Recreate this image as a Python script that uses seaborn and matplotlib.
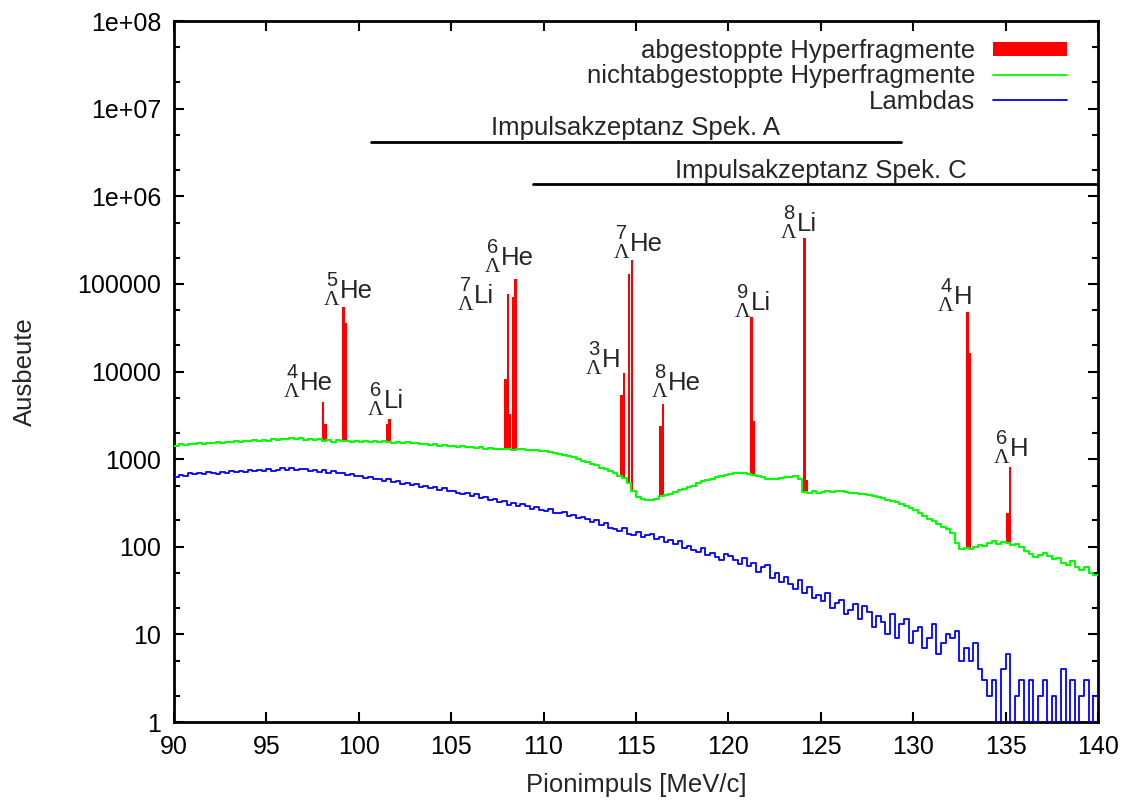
import numpy as np
import matplotlib
matplotlib.use("Agg")
import matplotlib.pyplot as plt
from matplotlib.lines import Line2D
from matplotlib.patches import Patch
from matplotlib.ticker import FixedLocator, NullFormatter
import seaborn as sns

# momentum binning of the two background spectra (MeV/c)
bin_lo, bin_hi, bin_w = 90.0, 140.0, 0.25

# nichtabgestoppte Hyperfragmente, 4 bins per MeV/c starting at 90
green_counts = [
    1430, 1470, 1440, 1500,  1480, 1520, 1490, 1540,  1510, 1560, 1530, 1580,
    1550, 1600, 1570, 1620,  1590, 1640, 1600, 1660,  1620, 1680, 1650, 1710,
    1690, 1740, 1700, 1720,  1660, 1700, 1640, 1680,  1600, 1650, 1580, 1640,
    1590, 1620, 1560, 1610,  1580, 1630, 1570, 1600,  1560, 1610, 1580, 1540,
    1560, 1520, 1570, 1510,  1530, 1480, 1500, 1460,  1470, 1430, 1460, 1410,
    1430, 1390, 1410, 1370,  1380, 1340, 1360, 1320,  1330, 1300, 1320, 1290,
    1310, 1280, 1300, 1290,  1280, 1260, 1270, 1240,  1230, 1200, 1180, 1150,
    1120, 1090, 1050, 1010,  960, 920, 880, 850,      800, 770, 730, 690,
    650, 610, 540, 430,      370, 350, 340, 345,      355, 375, 390, 400,
    420, 440, 460, 480,      500, 530, 560, 580,      600, 620, 650, 660,
    670, 690, 700, 690,      680, 660, 640, 620,      600, 590, 600, 615,
    620, 630, 640, 600,      420, 410, 430, 415,      425, 430, 420, 435,
    430, 420, 415, 410,      400, 395, 385, 380,      370, 360, 345, 335,
    320, 305, 290, 275,      260, 240, 225, 210,      195, 180, 170, 160,
    145, 110, 95, 98,        95, 100, 105, 102,       110, 115, 108, 112,
    110, 105, 108, 100,      90, 82, 76, 80,          84, 78, 72, 75,
    66, 62, 68, 58,          55, 58, 50, 47,
]

# Lambdas, same binning
blue_counts = [
    630, 660, 650, 690,  670, 700, 680, 710,  700, 680, 720, 700,  730, 710, 740, 720,
    750, 730, 760, 740,  770, 740, 760, 790,  760, 790, 750, 770,  780, 740, 760, 720,
    760, 700, 730, 690,  700, 660, 680, 640,  650, 610, 630, 590,  600, 560, 590, 550,
    560, 520, 540, 510,  520, 480, 500, 470,  480, 450, 470, 430,  435, 415, 400, 410,
    380, 395, 360, 370,  345, 355, 320, 335,  300, 315, 290, 305,  295, 270, 285, 260,
    255, 270, 245, 240,  250, 225, 232, 215,  218, 205, 190, 200,  178, 186, 165, 158,
    150, 162, 140, 135,  148, 128, 135, 138,  122, 130, 112, 118,  108, 115, 96, 102,
    92, 88, 98, 80,      84, 76, 70, 82,      78, 70, 64, 74,      60, 66, 52, 58,
    62, 44, 50, 40,      45, 38, 33, 42,      30, 35, 26, 28,      24, 30, 20, 23,
    25, 17, 19, 22,      15, 21, 18, 12,      16, 14, 10, 17,      9, 13, 15, 8,
    11, 12, 7, 9,        13, 6, 8, 10,        9, 11, 5, 7,         5, 8, 4, 3,
    2, 3, 1, 4,          6, 1, 2, 3,          1, 3, 1, 2,          3, 1, 2, 1,
    4, 1, 3, 1,          2, 3, 1, 2,
]

# abgestoppte Hyperfragmente: narrow peaks (bin centre, peak top)
red_centers = [98.06, 98.19, 99.18, 99.31, 101.53, 101.66,
               107.93, 108.07, 108.20, 108.34, 108.48,
               114.22, 114.35, 114.63, 114.77, 116.32, 116.46,
               121.26, 121.39, 124.13, 124.27, 132.94, 133.08, 135.11, 135.24]
red_tops = [4500, 2500, 55000, 36000, 2500, 2900,
            8300, 77000, 3300, 71000, 113000,
            5400, 9500, 130000, 186000, 2400, 4300,
            41500, 2700, 330000, 575, 47500, 16100, 244, 810]
red_width = 0.13

# isotope labels: mass number, element, label left edge x, element baseline y
iso_mass = ["4", "5", "6", "7", "6", "3", "7", "8", "9", "8", "4", "6"]
iso_elem = ["He", "He", "Li", "Li", "He", "H", "He", "He", "Li", "Li", "H", "H"]
iso_x = [96.06, 98.23, 100.61, 105.48, 106.94, 112.40, 113.92, 115.97, 120.47, 122.95, 131.45, 134.48]
iso_y = [6140, 68900, 3820, 60400, 164000, 11200, 237000, 6140, 50200, 401000, 58800, 1080]

# spectrometer momentum acceptances
acc_labels = ["Impulsakzeptanz Spek. A", "Impulsakzeptanz Spek. C"]
acc_lo = [100.66, 109.43]
acc_hi = [129.34, 140.6]
acc_text_x = [115.0, 125.0]
acc_level = [4.2e6, 1.38e6]

legend_labels = ["abgestoppte Hyperfragmente", "nichtabgestoppte Hyperfragmente", "Lambdas"]

sns.set_theme(style="ticks")
plt.rcParams["font.family"] = ["Liberation Sans", "DejaVu Sans"]

FS = 18.5

centers = np.arange(bin_lo, bin_hi, bin_w) + bin_w / 2

fig, ax = plt.subplots(figsize=(11.31, 8.05), dpi=100)
fig.subplots_adjust(left=0.1538, right=0.9708, top=0.9739, bottom=0.1031)

# red peaks sit on top of the unstopped spectrum
green_arr = np.array(green_counts, dtype=float)
idx = np.clip(((np.array(red_centers) - bin_lo) // bin_w).astype(int), 0, len(green_arr) - 1)
red_bottom = green_arr[idx]
ax.bar(red_centers, np.array(red_tops) - red_bottom, bottom=red_bottom, width=red_width,
       color="#ff0000", linewidth=0, zorder=2)

sns.histplot(x=centers, weights=np.array(green_counts, dtype=float),
             binwidth=bin_w, binrange=(bin_lo, bin_hi), element="step", fill=False,
             color="#00ff00", linewidth=1.5, ax=ax, zorder=3)
sns.histplot(x=centers, weights=np.array(blue_counts, dtype=float),
             binwidth=bin_w, binrange=(bin_lo, bin_hi), element="step", fill=False,
             color="#0000ff", linewidth=1.3, ax=ax, zorder=3)

ax.set_yscale("log")
ax.set_xlim(90, 140)
ax.set_ylim(1, 1e8)

for lab, lo, hi, tx, lev in zip(acc_labels, acc_lo, acc_hi, acc_text_x, acc_level):
    ax.plot([lo, hi], [lev, lev], color="black", linewidth=2, zorder=4)
    ax.annotate(lab, xy=(tx, lev), xytext=(0, 1), textcoords="offset points",
                ha="center", va="bottom", fontsize=FS)

# gnuplot-like nuclide labels: mass number on top, Lambda below, then element
for m, el, x, y in zip(iso_mass, iso_elem, iso_x, iso_y):
    ax.annotate(m, xy=(x, y), xytext=(4.2, 8.5), textcoords="offset points",
                ha="center", va="baseline", fontsize=14.5)
    ax.annotate("\u039b", xy=(x, y), xytext=(4.2, -5), textcoords="offset points",
                ha="center", va="baseline", fontsize=15.5, family="Liberation Serif")
    ax.annotate(el, xy=(x, y), xytext=(10, 0), textcoords="offset points",
                ha="left", va="baseline", fontsize=FS)

# ticks like gnuplot: inward, mirrored, minor at 2 and 5
yt = [1, 10, 100, 1000, 10000, 100000, 1e6, 1e7, 1e8]
ytl = ["1", "10", "100", "1000", "10000", "100000", "1e+06", "1e+07", "1e+08"]
ax.set_yticks(yt)
ax.set_yticklabels(ytl)
minor = [m * 10.0 ** e for e in range(0, 8) for m in (2, 5)]
ax.yaxis.set_minor_locator(FixedLocator(minor))
ax.yaxis.set_minor_formatter(NullFormatter())
ax.set_xticks(np.arange(90, 141, 5))
ax.tick_params(which="both", direction="in", top=True, right=True, colors="black",
               labelsize=18, width=1.5)
ax.tick_params(which="major", length=7, pad=9)
ax.tick_params(which="minor", length=4)
ax.tick_params(axis="x", which="minor", top=False, bottom=False)

for sp in ax.spines.values():
    sp.set_linewidth(2)
    sp.set_color("black")

ax.set_xlabel("Pionimpuls [MeV/c]", fontsize=FS)
ax.set_ylabel("Ausbeute", fontsize=FS)
ax.xaxis.set_label_coords(0.5, -0.073)
ax.yaxis.set_label_coords(-0.148, 0.5)

handles = [Patch(facecolor="#ff0000", edgecolor="none"),
           Line2D([], [], color="#00ff00", linewidth=1.3),
           Line2D([], [], color="#0000ff", linewidth=1.3)]
ax.legend(handles, legend_labels, loc="upper right", frameon=False, markerfirst=False,
          fontsize=FS, handlelength=2.9, handleheight=0.5, handletextpad=0.66,
          labelspacing=0.05, borderaxespad=0.3, bbox_to_anchor=(0.986, 1.0))

fig.savefig("out.png", dpi=100, facecolor="white")
